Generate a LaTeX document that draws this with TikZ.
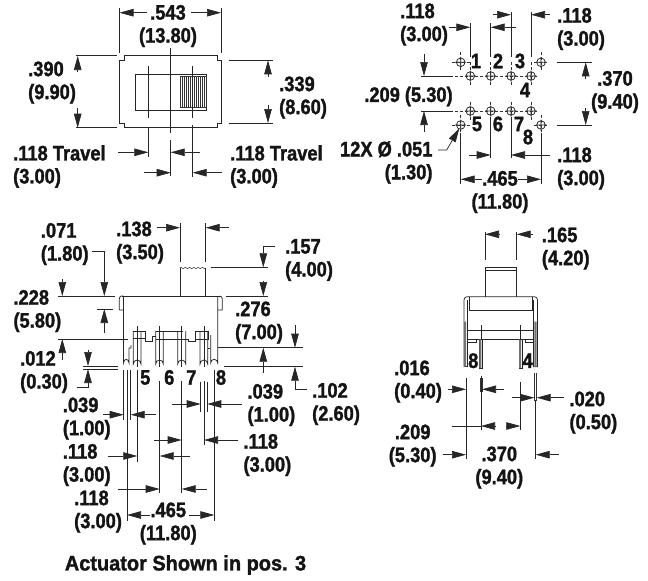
\documentclass[tikz,border=0pt]{standalone}
\usepackage{fontspec}
\newfontfamily\lblfont[FakeStretch=0.87,UprightFont=*-Bold,UprightFeatures={FakeStretch=0.87}]{Liberation Sans}
\newfontfamily\actfont[FakeStretch=0.95,UprightFont=*-Bold,UprightFeatures={FakeStretch=0.95}]{Liberation Sans}
\usetikzlibrary{arrows.meta}
\tikzset{
  lbl/.style={font=\lblfont\fontsize{21}{23}\selectfont,inner sep=0pt,text=black!92,
    execute at begin node={\special{pdf: code 2 Tr 0.3 w}},
    execute at end node={\special{pdf: code 0 Tr}}},
  lleft/.style={lbl,anchor=west,align=left,yshift=-1.5pt},
  lctr/.style={lbl,anchor=center,align=center,yshift=-1.5pt},
  lnum/.style={lbl,anchor=center},
  part/.style={line width=0.75pt,black!85},
  thin part/.style={line width=0.5pt,black!80},
  dim/.style={line width=0.7pt,black!85},
  dar/.style={dim,-{Triangle[length=14pt,width=7.5pt]}},
  ctr/.style={line width=0.5pt,black!80,dash pattern=on 3pt off 2pt}
}
\newcommand{\Hole}[2]{\draw[part] (#1,#2) circle (4.3) (#1-5.5,#2) -- (#1+5.5,#2) (#1,#2-5.5) -- (#1,#2+5.5);}
\begin{document}
\begin{tikzpicture}[x=1pt,y=-1pt]
\useasboundingbox (0,0) rectangle (648,581);
\fill[white] (0,0) rectangle (648,581);

% ---------- top left view
\draw[part] (124,55.7) -- (217,55.7) -- (217,60) -- (221,60) -- (221,123.3) -- (217,123.3) -- (217,127.7) -- (124,127.7) -- (124,123.3) -- (119.5,123.3) -- (119.5,60) -- (124,60) -- cycle;
\draw[part] (135.3,74) rectangle (206,110);
\draw[thin part] (180,76.7) rectangle (206,107.7);
\foreach \x in {182,184,...,204} \draw[thin part] (\x,76.7) -- (\x,107.7);
\draw[dim] (170.7,48) -- (170.7,133) (170.7,140) -- (170.7,176);
\draw[dim] (148.3,66) -- (148.3,118) (148.3,128) -- (148.3,157);
\draw[dim] (192.7,66) -- (192.7,118) (192.7,125) -- (192.7,177);
\draw[dim] (119.5,8) -- (119.5,52.7) (221,8) -- (221,52.7);
\draw[dar] (147,12.7) -- (119.5,12.7);
\draw[dar] (190.7,12.7) -- (221,12.7);
\draw[dim] (76,55.7) -- (116.7,55.7) (76,127.7) -- (116.7,127.7);
\draw[dar] (77.7,72) -- (77.7,56);
\draw[dar] (77.7,108) -- (77.7,127.7);
\draw[dim] (228.7,60.3) -- (273,60.3) (228.7,123) -- (273,123);
\draw[dar] (268,76.7) -- (268,60.3);
\draw[dar] (268,105) -- (268,123);
\draw[dar] (118.3,152.3) -- (148.3,152.3);
\draw[dar] (200,152.3) -- (170.7,152.3);
\draw[dar] (144,172.7) -- (170.7,172.7);
\draw[dar] (221.7,172.7) -- (192.7,172.7);
\node[lctr] (a1) at (168,24.5) {.543\\(13.80)};
\node[lleft] (a2) at (28,81) {.390\\(9.90)};
\node[lleft] (a3) at (279,96) {.339\\(8.60)};
\node[lleft] (a4) at (13,165) {.118 Travel\\(3.00)};
\node[lleft] (a5) at (230,165) {.118 Travel\\(3.00)};

% ---------- top right view
\foreach \x in {460.7,541} {\Hole{\x}{62.3}\Hole{\x}{125}}
\foreach \x in {470.3,490.7,511,531} {\Hole{\x}{76}\Hole{\x}{111}}
\draw[ctr] (451.7,62.3) -- (470,62.3) (534,62.3) -- (546.7,62.3);
\draw[ctr] (451.7,125) -- (470,125) (534,125) -- (546.7,125);
\draw[ctr] (455,76) -- (536.7,76) (455,111) -- (536.7,111);
\draw[ctr] (460.7,52) -- (460.7,70) (541,52) -- (541,70) (460.7,115) -- (460.7,132) (541,115) -- (541,132);
\foreach \x in {470.3,490.7,511,531} \draw[ctr] (\x,62) -- (\x,86) (\x,101.7) -- (\x,121);
\draw[dim] (470.3,23) -- (470.3,57) (490.7,23) -- (490.7,57) (511,12) -- (511,57) (531,12) -- (531,57);
\draw[dar] (449.3,27.3) -- (470.3,27.3);
\draw[dar] (515.7,27.3) -- (490.7,27.3);
\draw[dar] (493.3,14.7) -- (511,14.7);
\draw[dar] (550,14.7) -- (531,14.7);
\draw[dim] (421,76) -- (453.3,76) (421,111) -- (453.3,111);
\draw[dar] (424,54.3) -- (424,76);
\draw[dar] (424,131.7) -- (424,111);
\draw[dim] (556.7,62.3) -- (591.7,62.3) (556.7,125) -- (591.7,125);
\draw[dar] (585.7,79.3) -- (585.7,62.3);
\draw[dar] (585.7,108) -- (585.7,125);
\draw[dim] (460.7,132.7) -- (460.7,184) (541,132.7) -- (541,184) (490.7,118) -- (490.7,158) (511,118) -- (511,158);
\draw[dar] (469,155) -- (490.7,155);
\draw[dar] (550,155) -- (511,155);
\draw[dar] (481.7,179.3) -- (460.7,179.3);
\draw[dar] (518.3,179.3) -- (541,179.3);
\draw[dim,-{Triangle[length=14pt,width=7.5pt]}] (438,150) -- (446.7,150) -- (459.3,128.3);
\node[lleft] (b1) at (400,23) {.118\\(3.00)};
\node[lleft] (b2) at (557,27.5) {.118\\(3.00)};
\node[lnum] (b3) at (408.5,96.5) {.209 (5.30)};
\node[lctr] (b4) at (615,90.5) {.370\\(9.40)};
\node[lbl,anchor=east,align=right,yshift=-1.5pt] (b5) at (432.7,161) {12X Ø .051\\(1.30)};
\node[lleft] (b6) at (557,167) {.118\\(3.00)};
\node[lctr] (b7) at (500,190.5) {.465\\(11.80)};
\node[lnum] (n1) at (476,61) {1};
\node[lnum] (n2) at (498,61) {2};
\node[lnum] (n3) at (520,61) {3};
\node[lnum] (n4) at (525,90) {4};
\node[lnum] (n5) at (477,124) {5};
\node[lnum] (n6) at (498,124) {6};
\node[lnum] (n7) at (519,124) {7};
\node[lnum] (n8) at (528,137) {8};

% ---------- bottom left view
\draw[part] (121.5,296) -- (219.5,296);
\draw[part] (123.3,296) -- (121.5,296) to[out=180,in=90] (119.3,299) -- (119.3,310) -- (123.3,310);
\draw[part] (219.5,296) to[out=0,in=90] (222.3,299) -- (222.3,310) -- (217.7,310);
% actuator
\draw[part] (180,296) -- (180,268);
\draw[part] (205.7,296) -- (205.7,268);
\draw[thin part] (180,268) \foreach \i in {0,...,5} { .. controls (180+\i*4.28+1.4,265.5) and (180+\i*4.28+2.8,270.5) .. (180+\i*4.28+4.28,268)};
% body sides + outer pins
\draw[part] (123.5,296) -- (123.5,363) arc[start angle=180,end angle=360,x radius=2.75,y radius=3.7] -- (129,348) -- (131,348) -- (131,345);
\draw[part] (217.7,296) -- (217.7,363) arc[start angle=360,end angle=180,x radius=3.5,y radius=3.7] -- (210.7,335);
\draw[part] (207.7,348) -- (210.3,348);
% inner pins
\foreach \a/\b in {133.3/141,155.7/163.3,177.7/185.7,200/207.7} {
  \draw[part] (\a,331) -- (\a,364) arc[start angle=180,end angle=360,x radius={(\b-\a)/2},y radius=4] -- (\b,331);
}
% carrier
\draw[part] (133.3,331.7) -- (145.7,331.7) -- (145.7,341) -- (152.7,341) -- (152.7,336) -- (155.7,336);
\draw[part] (155.7,331) -- (183,331);
\draw[part] (155.7,339) -- (188.3,339) -- (188.3,341.7) -- (195.7,341.7) -- (195.7,331) -- (208.3,331) -- (208.3,340);
\draw[part] (133.3,338.3) -- (145.7,338.3) (195.7,339) -- (208.3,339);
% pin witness lines
\draw[dim] (137.3,326) -- (137.3,367) (159.7,326) -- (159.7,367) (181.7,326) -- (181.7,367) (204,326) -- (204,367);
\draw[dim] (123.7,370) -- (123.7,420) (130.7,370) -- (130.7,420);
\draw[dim] (127,370) -- (127,521);
\draw[dim] (137.3,370) -- (137.3,461.7);
\draw[dim] (159.7,381) -- (159.7,493) (181.7,381) -- (181.7,493);
\draw[dim] (200.7,381.7) -- (200.7,411.7) (207.3,381.7) -- (207.3,411.7);
\draw[dim] (204,381) -- (204,445);
\draw[dim] (214.3,370) -- (214.3,521);
% dims
\draw[dim] (180,223) -- (180,262) (205.7,223) -- (205.7,262);
\draw[dar] (156.7,227.7) -- (180,227.7);
\draw[dar] (229,227.7) -- (205.7,227.7);
\draw[dim] (58,296) -- (115,296);
\draw[dim,-{Triangle[length=14pt,width=7.5pt]}] (92,251.7) -- (104.3,251.7) -- (104.3,296);
\draw[dar] (62.3,279) -- (62.3,296);
\draw[dim] (96.7,309) -- (112.7,309);
\draw[dar] (104.3,333) -- (104.3,309);
\draw[dim] (58,339) -- (128,339);
\draw[dar] (62.3,360) -- (62.3,339);
\draw[dim] (83,366) -- (118,366) (83,369) -- (118,369);
\draw[dar] (88,350) -- (88,366);
\draw[dim,-{Triangle[length=14pt,width=7.5pt]}] (76.7,387) -- (88,387) -- (88,369);
\draw[dim] (210.7,267.3) -- (268,267.3) (226,296) -- (268,296);
\draw[dim,-{Triangle[length=14pt,width=7.5pt]}] (275,246.7) -- (263.3,246.7) -- (263.3,267.3);
\draw[dar] (263.3,281) -- (263.3,296);
\draw[dim] (218,347.7) -- (302.7,347.7) (224.3,366.7) -- (302.7,366.7);
\draw[dar] (263.3,372.7) -- (263.3,347.7);
\draw[dar] (295,325) -- (295,347.7);
\draw[dim,-{Triangle[length=14pt,width=7.5pt]}] (306.7,389.3) -- (295,389.3) -- (295,366.7);
\draw[dar] (103.3,414.7) -- (123.7,414.7);
\draw[dar] (155.7,414.7) -- (130.7,414.7);
\draw[dar] (171.7,404) -- (200.7,404);
\draw[dar] (241.7,404) -- (207.3,404);
\draw[dar] (108.3,456) -- (137.3,456);
\draw[dar] (190,456) -- (159.7,456);
\draw[dar] (154.3,440) -- (181.7,440);
\draw[dar] (238.3,440) -- (204,440);
\draw[dar] (118.3,489) -- (159.7,489);
\draw[dar] (207.3,489) -- (181.7,489);
\draw[dar] (150,515) -- (127,515);
\draw[dar] (189.3,515) -- (214.3,515);
\node[lleft] (c1) at (40.7,242.5) {.071\\(1.80)};
\node[lleft] (c2) at (116,241) {.138\\(3.50)};
\node[lleft] (c3) at (285,258.5) {.157\\(4.00)};
\node[lleft] (c4) at (13.3,309.5) {.228\\(5.80)};
\node[lleft] (c5) at (235,321) {.276\\(7.00)};
\node[lleft] (c6) at (20,370.5) {.012\\(0.30)};
\node[lleft] (c7) at (312,402.5) {.102\\(2.60)};
\node[lleft] (c8) at (62.7,417) {.039\\(1.00)};
\node[lleft] (c9) at (247.3,403.5) {.039\\(1.00)};
\node[lleft] (c10) at (62.7,463.5) {.118\\(3.00)};
\node[lleft] (c11) at (243.3,453.5) {.118\\(3.00)};
\node[lleft] (c12) at (74,510) {.118\\(3.00)};
\node[lctr] (c13) at (168.3,522) {.465\\(11.80)};
\node[lnum,font=\actfont\fontsize{21}{23}\selectfont] (c14) at (185.5,565) {Actuator Shown in pos. 3};
\node[lnum] (m5) at (145.3,377.5) {5};
\node[lnum] (m6) at (169.3,377.5) {6};
\node[lnum] (m7) at (191.3,377.5) {7};
\node[lnum] (m8) at (221,377.5) {8};

% ---------- bottom right view
\draw[part] (485,296.7) -- (485,267.3) -- (516.7,267.3) -- (516.7,296.7);
\draw[part] (485,270.3) -- (516.7,270.3);
\draw[part] (464,366.7) -- (464,300) to[out=90,in=180] (467,296.7) -- (534.5,296.7) to[out=0,in=90] (537.5,300) -- (537.5,366.7) -- (533.5,366.7) -- (533.5,300);
\draw[part] (464,366.7) -- (467.7,366.7) -- (467.7,300);
\draw[part] (469,297) -- (469,310) -- (532.3,310) -- (532.3,297);
\draw[part] (467.7,330.7) -- (533.5,330.7) (467.7,339.3) -- (533.5,339.3);
\draw[part] (467.7,342.7) -- (476,342.7) -- (476,339.3) (533.5,342.7) -- (525,342.7) -- (525,339.3);
\fill[black!55] (464,321.7) rectangle (466.2,366.7) (534.3,321.7) rectangle (536.5,366.7);
\draw[part] (479.3,339.3) -- (479.3,368) -- (482.7,368) -- (482.7,339.3);
\draw[part] (519,339.3) -- (519,368) -- (522.7,368) -- (522.7,339.3);
\fill[black!55] (479.3,339.3) rectangle (481.3,368) (519,339.3) rectangle (521,368);
\draw[dim] (481,325) -- (481,340) (520.3,325) -- (520.3,340);
\draw[dim] (485,231.7) -- (485,260) (516.7,231.7) -- (516.7,260);
\draw[dar] (499,234.3) -- (485,234.3);
\draw[dar] (533,234.3) -- (516.7,234.3);
\draw[dim] (466,378) -- (466,459.3);
\draw[dim] (481,375.7) -- (481,430);
\draw[thin part] (480,378) -- (480,391.7) (482,378) -- (482,391.7);
\draw[dim] (520.3,381.7) -- (520.3,430);
\draw[thin part] (534.3,373.3) -- (534.3,400.7) (536.7,373.3) -- (536.7,400.7);
\draw[dim] (535.7,400) -- (535.7,459.3);
\draw[dar] (447.7,389.3) -- (466,389.3);
\draw[dar] (504.3,389.3) -- (482,389.3);
\draw[dar] (511.7,397.7) -- (534.3,397.7);
\draw[dar] (564,397.7) -- (536.7,397.7);
\draw[dim] (451.7,426) -- (481,426);
\draw[dar] (495,426) -- (481,426);
\draw[dar] (506,426) -- (520.3,426);
\draw[dar] (442.7,454.7) -- (466,454.7);
\draw[dar] (559,454.7) -- (535.7,454.7);
\node[lleft] (d1) at (541.7,247) {.165\\(4.20)};
\node[lnum] (d2) at (473.3,360.7) {8};
\node[lnum] (d3) at (527.7,360.7) {4};
\node[lleft] (d4) at (394,380) {.016\\(0.40)};
\node[lleft] (d5) at (569.3,411) {.020\\(0.50)};
\node[lctr] (d6) at (412.7,444) {.209\\(5.30)};
\node[lctr] (d7) at (499.3,466) {.370\\(9.40)};
\end{tikzpicture}
\end{document}
